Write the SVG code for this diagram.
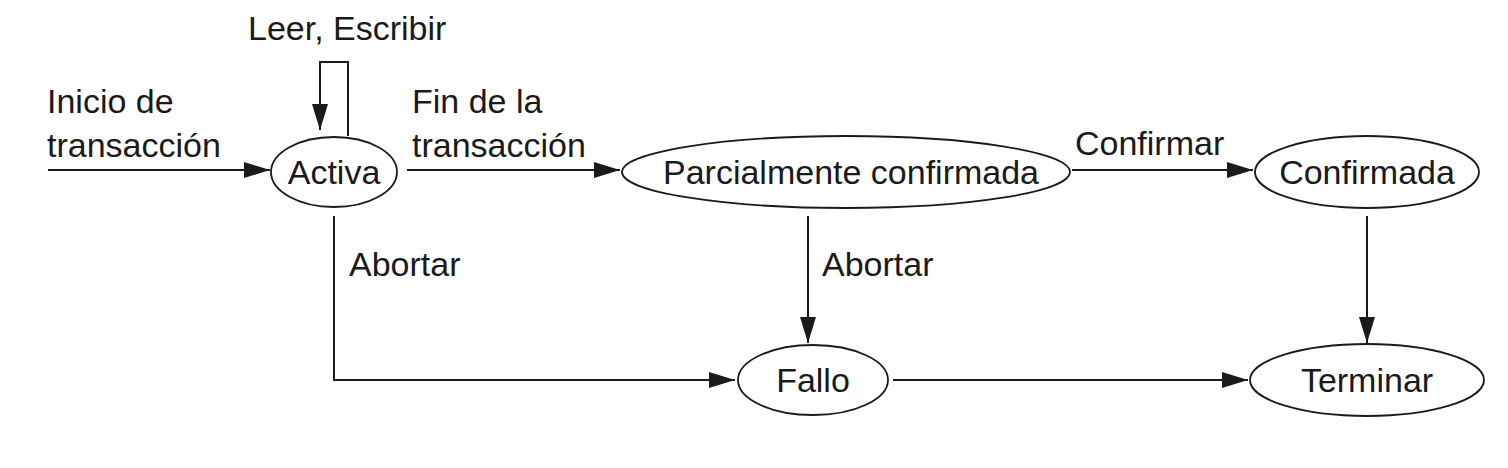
<svg xmlns="http://www.w3.org/2000/svg" width="1508" height="468" viewBox="0 0 1508 468">
<defs>
<marker id="arr" markerWidth="26" markerHeight="16" refX="26" refY="8" orient="auto" markerUnits="userSpaceOnUse">
<path d="M0,0 L26,8 L0,16 Z" fill="#1a1a1a"/>
</marker>
<style>
.n{fill:#fff;stroke:#1a1a1a;stroke-width:1.8}
.t{font-family:"Liberation Sans",Arial,sans-serif;font-size:34px;fill:#1a1a1a}
.c{text-anchor:middle}
.e{fill:none;stroke:#1a1a1a;stroke-width:2}
</style>
</defs>
<rect width="1508" height="468" fill="#fff"/>
<g id="connectors">
<line class="e" x1="48" y1="170" x2="270" y2="170" marker-end="url(#arr)"/>
<polyline class="e" points="348,136 348,62 320,62 320,130" marker-end="url(#arr)"/>
<line class="e" x1="407" y1="170" x2="620" y2="170" marker-end="url(#arr)"/>
<line class="e" x1="1072" y1="170" x2="1253" y2="170" marker-end="url(#arr)"/>
<polyline class="e" points="334,216 334,380 735,380" marker-end="url(#arr)"/>
<line class="e" x1="808" y1="216" x2="808" y2="343" marker-end="url(#arr)"/>
<line class="e" x1="1367" y1="216" x2="1367" y2="343" marker-end="url(#arr)"/>
<line class="e" x1="893" y1="380" x2="1248" y2="380" marker-end="url(#arr)"/>
<text class="t" x="248" y="40">Leer, Escribir</text>
<text class="t" x="47" y="113">Inicio de</text>
<text class="t" x="47" y="157">transacción</text>
<text class="t" x="412" y="113">Fin de la</text>
<text class="t" x="412" y="157">transacción</text>
<text class="t" x="1075" y="155">Confirmar</text>
<text class="t" x="349" y="276">Abortar</text>
<text class="t" x="822" y="276">Abortar</text>
</g>
<g id="activa">
<ellipse class="n" cx="334" cy="172" rx="63" ry="35"/>
<text class="t c" x="334" y="184">Activa</text>
</g>
<g id="parcial">
<ellipse class="n" cx="846" cy="172" rx="224" ry="36"/>
<text class="t c" x="851" y="184">Parcialmente confirmada</text>
</g>
<g id="confirmada">
<ellipse class="n" cx="1367" cy="172" rx="112" ry="36"/>
<text class="t c" x="1367" y="184">Confirmada</text>
</g>
<g id="fallo">
<ellipse class="n" cx="813" cy="380" rx="75" ry="35"/>
<text class="t c" x="813" y="392">Fallo</text>
</g>
<g id="terminar">
<ellipse class="n" cx="1367" cy="380" rx="117" ry="36"/>
<text class="t c" x="1367" y="392">Terminar</text>
</g>
</svg>
